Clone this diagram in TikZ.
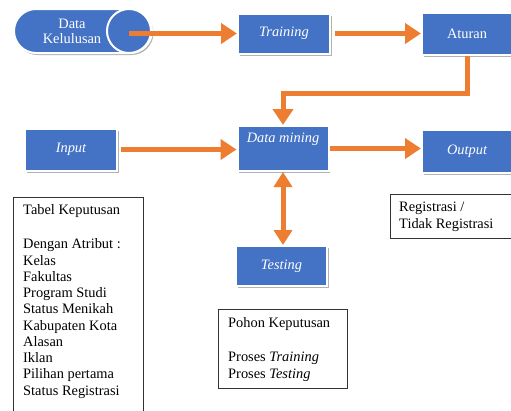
\documentclass[tikz,border=0pt]{standalone}
\usepackage{fontspec}
\setmainfont{Liberation Serif}
\usetikzlibrary{arrows.meta,shapes.misc,shadows,calc}
\definecolor{offblue}{HTML}{4472C4}
\definecolor{offorange}{HTML}{ED7D31}
\begin{document}
\begin{tikzpicture}[x=1pt,y=-1pt,
  bluebox/.style={rectangle, fill=offblue, draw=white, line width=2pt, text=white,
    font=\fontsize{14.4}{17}\selectfont, inner sep=0pt,
    general shadow={fill=black!30, shadow xshift=1.5pt, shadow yshift=-2pt}},
  flow/.style={draw=offorange, line width=5pt, -{Triangle[length=16pt,width=20pt]}},
  biflow/.style={draw=offorange, line width=5pt, {Triangle[length=15pt,width=18pt]}-{Triangle[length=15pt,width=18pt]}},
  textframe/.style={draw=black!80, line width=0.8pt, inner sep=0pt},
  plain/.style={anchor=north west, align=left, inner sep=0pt, text=black}
]
\useasboundingbox (0,0) rectangle (511,410);
\fill[white] (0,0) rectangle (511,410);

% pill "Data Kelulusan"
\node[rounded rectangle, fill=offblue, draw=white, line width=2pt,
  general shadow={fill=black!30, shadow xshift=1.5pt, shadow yshift=-2pt},
  minimum width=138, minimum height=44, inner sep=0pt] (dk) at (83,31) {};
\node[circle, fill=offblue, draw=white, line width=2pt, minimum size=44, inner sep=0pt] (dkcirc) at (129,31) {};
\node[text=white, align=center, font=\fontsize{14.4}{15}\selectfont, inner sep=0pt] (dktext) at (72,31) {Data\\Kelulusan};

% blue boxes
\node[bluebox, minimum width=92, minimum height=40] (train) at (284,33.5) {\itshape Training};
\node[bluebox, minimum width=90, minimum height=42] (aturan) at (467,33.5) {Aturan};
\node[bluebox, minimum width=92, minimum height=42] (input) at (71,149.5) {\itshape Input};
\node[bluebox, minimum width=91, minimum height=45, text depth=22pt] (dm) at (283,148.5) {\itshape Data mining};
\node[bluebox, minimum width=90, minimum height=43] (output) at (467,151) {\itshape Output};
\node[bluebox, minimum width=91, minimum height=40] (testing) at (281.5,266) {\itshape Testing};

% connectors
\coordinate (bend) at (283,93);
\draw[flow] (dkcirc.center |- train.west) -- (train.west);
\draw[flow, shorten <=4pt] (train.east) -- (aturan.west);
\draw[flow, line join=miter] (aturan.south) |- (bend) -- (dm.north);
\draw[flow, shorten <=3pt] (input.east) -- (input.east -| dm.west);
\draw[flow] (dm.east) -- (dm.east -| output.west);
\draw[biflow] (dm.south) -- (dm.south |- testing.north);

% text frames
\node[textframe, minimum width=130, minimum height=225, anchor=north west] (tabelbox) at (13,197) {};
\node[plain, font=\fontsize{14.4}{16.25}\selectfont] (tabel) at (23,204)
  {Tabel Keputusan\\[18.5pt]Dengan Atribut :\\Kelas\\Fakultas\\Program Studi\\Status Menikah\\Kabupaten Kota\\Alasan\\Iklan\\Pilihan pertama\\Status Registrasi};

\node[textframe, minimum width=130, minimum height=44, anchor=north west] (regbox) at (390,194) {};
\node[plain, font=\fontsize{14.4}{17}\selectfont] (reg) at (399,202) {Registrasi /\\Tidak Registrasi};

\node[textframe, minimum width=129, minimum height=79, anchor=north west] (pohonbox) at (218,309) {};
\node[plain, font=\fontsize{14.4}{16.5}\selectfont] (pohon) at (228,317)
  {Pohon Keputusan\\[18pt]Proses \textit{Training}\\Proses \textit{Testing}};
\end{tikzpicture}
\end{document}
